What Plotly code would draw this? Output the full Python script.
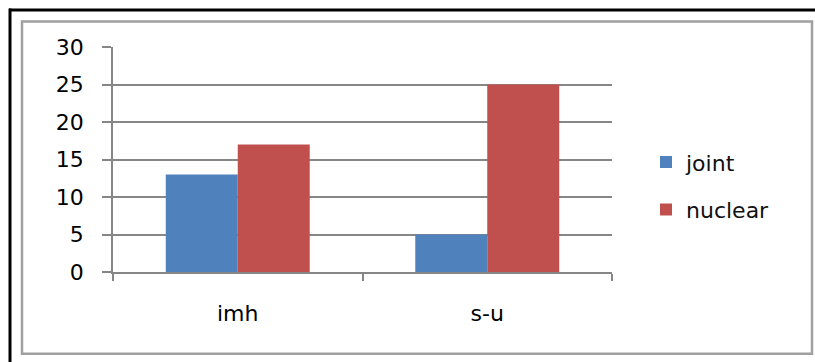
import plotly.graph_objects as go

categories = ["imh", "s-u"]
joint = [13, 5]
nuclear = [17, 25]
series_names = ["joint", "nuclear"]
y_ticks = [0, 5, 10, 15, 20, 25, 30]

W, H = 815, 362
L, R, T, B = 113, 612, 46.5, 272  # plot area pixel edges

def px(x):
    return (x - L) / (R - L)

def py(y):
    return (B - y) / (B - T)

fig = go.Figure()
fig.add_trace(go.Bar(x=categories, y=joint, name=series_names[0],
                     marker=dict(color="#4F81BD", line=dict(width=0)),
                     legendgroup="a"))
fig.add_trace(go.Bar(x=categories, y=nuclear, name=series_names[1],
                     marker=dict(color="#C0504D", line=dict(width=0)),
                     legendgroup="b"))

font = dict(family="DejaVu Sans", size=22, color="#000000")

fig.update_layout(
    width=W, height=H,
    margin=dict(l=L, r=W - R, t=T, b=H - B, pad=0),
    paper_bgcolor="white", plot_bgcolor="white",
    barmode="group", bargap=0.423, bargroupgap=0,
    font=font,
    showlegend=True,
    legend=dict(x=px(646), y=py(186), xanchor="left", yanchor="middle",
                font=dict(family="DejaVu Sans", size=22, color="#111111"),
                tracegroupgap=16, traceorder="grouped",
                bgcolor="rgba(0,0,0,0)", borderwidth=0),
    xaxis=dict(type="category", showline=True, linecolor="#868686", linewidth=1.5,
               ticks="outside", tickson="boundaries", ticklen=7, tickcolor="#868686",
               tickwidth=1.5, showgrid=False, tickfont=font, ticklabelstandoff=21),
    yaxis=dict(range=[0, 30], tickvals=y_ticks, showline=True, linecolor="#868686",
               linewidth=1.5, ticks="outside", ticklen=9, tickcolor="#868686",
               tickwidth=1.5, showgrid=True, gridcolor="#868686", gridwidth=1.5,
               zeroline=False, tickfont=font, ticklabelstandoff=14),
    shapes=[
        dict(type="rect", xref="paper", yref="paper",
             x0=px(22), x1=px(812), y0=py(354), y1=py(21),
             line=dict(color="#a0a0a0", width=2.5), layer="below"),
        dict(type="line", xref="paper", yref="paper",
             x0=px(9), x1=px(816), y0=py(9.5), y1=py(9.5),
             line=dict(color="black", width=3)),
        dict(type="line", xref="paper", yref="paper",
             x0=px(10), x1=px(10), y0=py(8), y1=py(363),
             line=dict(color="black", width=3)),
    ],
)

fig.write_html("out.html")
